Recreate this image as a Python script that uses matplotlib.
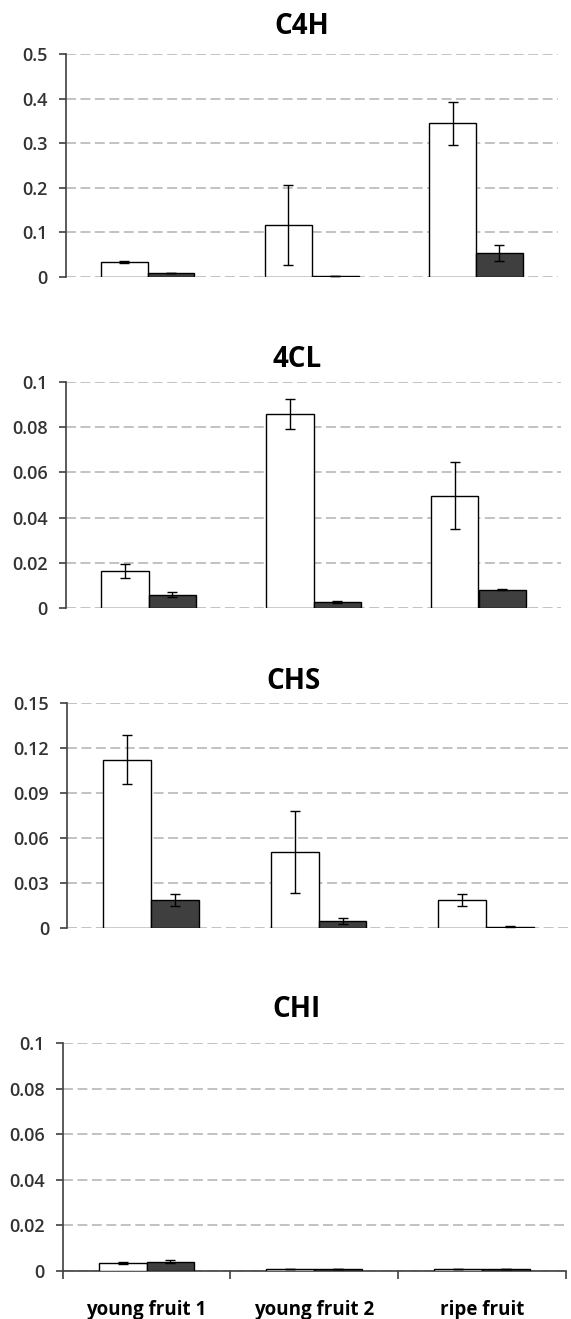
import matplotlib
matplotlib.use('Agg')
import matplotlib.pyplot as plt
import numpy as np
from matplotlib.ticker import MultipleLocator, FormatStrFormatter

plt.rcParams['font.family'] = ['Open Sans', 'DejaVu Sans']

categories = ['young fruit 1', 'young fruit 2', 'ripe fruit']

# C4H
c4h_white = [0.033, 0.117, 0.345]
c4h_white_err = [0.002, 0.089, 0.048]
c4h_dark = [0.009, 0.003, 0.054]
c4h_dark_err = [0.001, 0.0, 0.018]

# 4CL
cl4_white = [0.0164, 0.0858, 0.0496]
cl4_white_err = [0.003, 0.0068, 0.0148]
cl4_dark = [0.0059, 0.0028, 0.008]
cl4_dark_err = [0.001, 0.0005, 0.0002]

# CHS
chs_white = [0.1122, 0.0505, 0.0187]
chs_white_err = [0.0165, 0.0273, 0.0038]
chs_dark = [0.0187, 0.0047, 0.001]
chs_dark_err = [0.0038, 0.0022, 0.0002]

# CHI
chi_white = [0.0035, 0.0008, 0.0008]
chi_white_err = [0.0003, 0.0, 0.0]
chi_dark = [0.0041, 0.0008, 0.0008]
chi_dark_err = [0.0007, 0.0, 0.0]

W, H = 571, 1319
BAR_W = 0.285
DARK = '#3f3f3f'
GRID = '#bdbdbd'
TXT = '#333333'


def px_axes(fig, left, right, top, bottom):
	return fig.add_axes([left / W, 1 - bottom / H, (right - left) / W, (bottom - top) / H])


def plot_panel(ax, white, white_err, dark, dark_err, ymax, step, show_x):
	x = np.arange(len(categories))
	ax.bar(x - BAR_W / 2, white, BAR_W, color='white', edgecolor='black', linewidth=1.0, zorder=3)
	ax.bar(x + BAR_W / 2, dark, BAR_W, color=DARK, edgecolor='black', linewidth=1.0, zorder=3)
	ax.errorbar(x - BAR_W / 2, white, yerr=white_err, fmt='none', ecolor='black',
		elinewidth=1.0, capsize=3.5, capthick=1.0, zorder=4)
	ax.errorbar(x + BAR_W / 2, dark, yerr=dark_err, fmt='none', ecolor='black',
		elinewidth=1.0, capsize=3.5, capthick=1.0, zorder=4)

	ax.set_xlim(-0.5, len(categories) - 0.5)
	ax.set_ylim(0, ymax)
	ax.yaxis.set_major_locator(MultipleLocator(step))
	ax.yaxis.set_major_formatter(FormatStrFormatter('%g'))
	ax.grid(axis='y', color=GRID, linewidth=1.3, linestyle=(0, (5.5, 2.5)), zorder=0)
	ax.set_axisbelow(True)

	for s in ['top', 'right']:
		ax.spines[s].set_visible(False)
	ax.spines['left'].set_color('#404040')
	ax.spines['left'].set_linewidth(1.2)
	ax.tick_params(axis='y', direction='out', length=5, width=1.2, color='#404040',
		labelsize=13, labelcolor=TXT, pad=8)
	for lab in ax.get_yticklabels():
		lab.set_fontweight('semibold')

	if show_x:
		ax.spines['bottom'].set_color('#404040')
		ax.spines['bottom'].set_linewidth(1.2)
		ax.set_xticks(np.arange(len(categories) + 1) - 0.5)
		ax.set_xticklabels([])
		ax.set_xticks(x, minor=True)
		ax.set_xticklabels(categories, minor=True, fontsize=13.5, fontweight='bold', color='black')
		ax.tick_params(axis='x', which='major', direction='out', length=6, width=1.2, color='#404040')
		ax.tick_params(axis='x', which='minor', length=0, pad=21)
	else:
		ax.spines['bottom'].set_visible(False)
		ax.set_xticks([])


def main():
	fig = plt.figure(figsize=(W / 100, H / 100), dpi=100)

	ax1 = px_axes(fig, 65.5, 558, 54, 277)
	plot_panel(ax1, c4h_white, c4h_white_err, c4h_dark, c4h_dark_err, 0.5, 0.1, False)
	ax2 = px_axes(fig, 66, 561, 382, 608)
	plot_panel(ax2, cl4_white, cl4_white_err, cl4_dark, cl4_dark_err, 0.1, 0.02, False)
	ax3 = px_axes(fig, 67.4, 570, 703, 928)
	plot_panel(ax3, chs_white, chs_white_err, chs_dark, chs_dark_err, 0.15, 0.03, False)
	ax4 = px_axes(fig, 62.6, 566, 1043, 1271)
	plot_panel(ax4, chi_white, chi_white_err, chi_dark, chi_dark_err, 0.1, 0.02, True)

	# title, centre x, baseline y (pixels)
	titles = [('C4H', 302, 34), ('4CL', 297, 367), ('CHS', 294, 689), ('CHI', 297, 1017)]
	for t, tx, ty in titles:
		fig.text(tx / W, 1 - ty / H, t, ha='center', va='baseline', fontsize=20, fontweight='bold')

	fig.savefig('out.png', dpi=100)


if __name__ == '__main__':
	main()
